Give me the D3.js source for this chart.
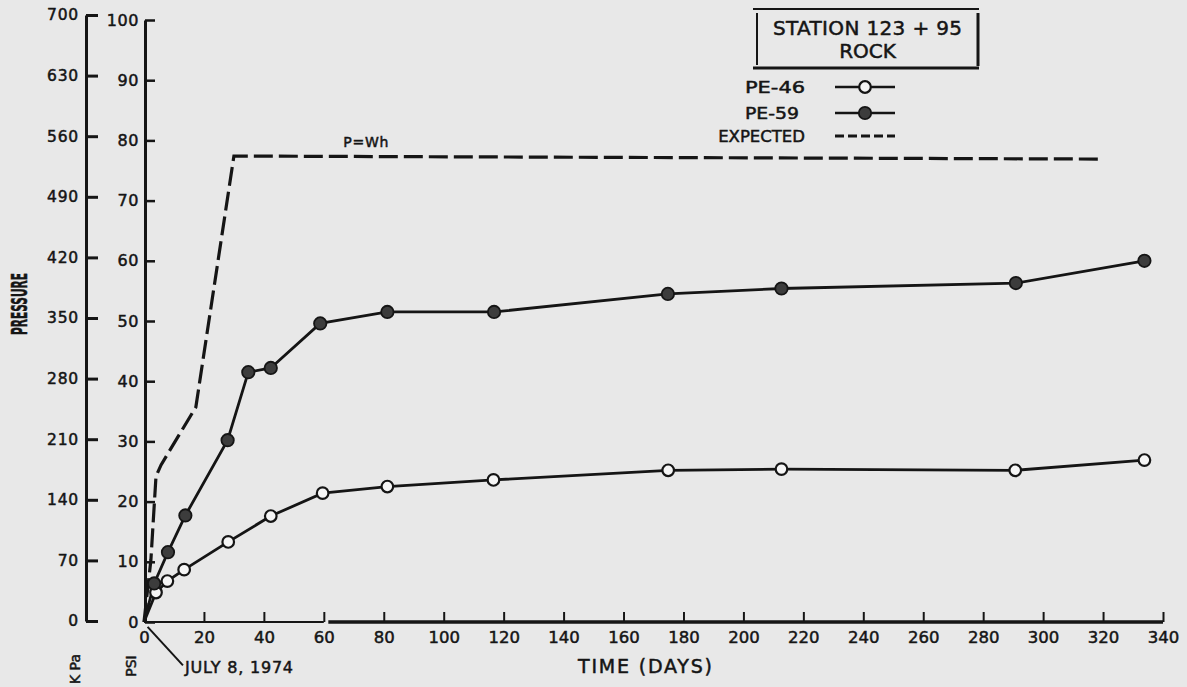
<!DOCTYPE html>
<html>
<head>
<meta charset="utf-8">
<script src="https://cdn.jsdelivr.net/npm/d3@7"></script>
<style>
  html, body { margin: 0; padding: 0; background: #e8e8e8; }
  svg { display: block; }
  svg text { stroke: #151515; stroke-width: 0.5px; }
</style>
</head>
<body>
<svg id="chart" width="1187" height="687"></svg>
<script>
// Pressure cell readings, Station 123+95 (rock), days after July 8, 1974
const pe46Days = [4.0, 7.8, 13.4, 28.1, 42.3, 59.6, 81.2, 116.6, 174.9, 212.7, 290.7, 333.8];
const pe46Psi  = [4.9, 6.8, 8.7, 13.3, 17.6, 21.4, 22.5, 23.6, 25.2, 25.4, 25.2, 26.9];
const pe59Days = [3.4, 8.0, 13.8, 27.9, 34.8, 42.3, 58.8, 81.2, 116.8, 174.8, 212.7, 290.9, 333.8];
const pe59Psi  = [6.4, 11.6, 17.7, 30.2, 41.5, 42.2, 49.6, 51.5, 51.5, 54.5, 55.4, 56.3, 60.0];
// Expected load, P = Wh
const expectedDays = [0, 2.3, 4.0, 5.7, 17.3, 30.0, 319];
const expectedPsi  = [0, 10.3, 24.2, 26.1, 35.7, 77.4, 76.9];

// Axis ticks
const dayTicks = d3.range(0, 341, 20);
const psiTicks = d3.range(0, 101, 10);
const kpaTicks = d3.range(0, 701, 70);

const W = 1187, H = 687;
const ink = "#151515";
const font = "'DejaVu Sans', 'Liberation Sans', sans-serif";

const svg = d3.select("#chart");
svg.append("rect").attr("width", W).attr("height", H).attr("fill", "#e8e8e8");

const x  = d3.scaleLinear().domain([0, 340]).range([144, 1163]);
const y  = d3.scaleLinear().domain([0, 100]).range([622, 20]);
const yk = d3.scaleLinear().domain([0, 700]).range([621, 15]);

// ---- kPa axis (outer) ----
const kpaAxis = svg.append("g")
  .attr("transform", "translate(86,0)")
  .call(d3.axisLeft(yk).tickValues(kpaTicks).tickSizeInner(-12).tickSizeOuter(0).tickPadding(7));
kpaAxis.select(".domain").attr("stroke", ink).attr("stroke-width", 3);
kpaAxis.selectAll(".tick line").attr("stroke", ink).attr("stroke-width", 3);
kpaAxis.selectAll(".tick text")
  .attr("fill", ink).attr("font-family", font).attr("font-size", 15.5)
  .attr("letter-spacing", 0.8);

// ---- psi axis (inner) ----
const psiAxis = svg.append("g")
  .attr("transform", "translate(145,0)")
  .call(d3.axisLeft(y).tickValues(psiTicks).tickSizeInner(-10).tickSizeOuter(0).tickPadding(6));
psiAxis.select(".domain").attr("stroke", ink).attr("stroke-width", 3);
psiAxis.selectAll(".tick line").attr("stroke", ink).attr("stroke-width", 2.5);
psiAxis.selectAll(".tick text")
  .attr("fill", ink).attr("font-family", font).attr("font-size", 16)
  .attr("letter-spacing", 0.6);

// ---- time axis ----
const xAxis = svg.append("g")
  .attr("transform", "translate(0,622)")
  .call(d3.axisBottom(x).tickValues(dayTicks).tickSizeInner(-10).tickSizeOuter(0).tickPadding(9));
xAxis.select(".domain").remove();
xAxis.selectAll(".tick line").attr("stroke", ink).attr("stroke-width", 2);
xAxis.selectAll(".tick").filter(d => d === 0).select("line").remove();
xAxis.selectAll(".tick text")
  .attr("fill", ink).attr("font-family", font).attr("font-size", 16.5);
// base line drawn in two pieces, as on the sheet
svg.append("line").attr("x1", x(0)).attr("x2", x(60)).attr("y1", y(0)).attr("y2", y(0))
  .attr("stroke", ink).attr("stroke-width", 2.2);
svg.append("line").attr("x1", x(61.5)).attr("x2", x(340)).attr("y1", y(0)).attr("y2", y(0))
  .attr("stroke", ink).attr("stroke-width", 3.6);

// ---- axis titles ----
svg.append("text")
  .attr("transform", "translate(27,304) rotate(-90)")
  .attr("text-anchor", "middle").attr("font-family", font).attr("font-weight", "bold")
  .attr("font-size", 21).attr("fill", ink)
  .attr("textLength", 62).attr("lengthAdjust", "spacingAndGlyphs")
  .text("PRESSURE");
svg.append("text")
  .attr("transform", "translate(80,669) rotate(-90)")
  .attr("text-anchor", "middle").attr("font-family", font)
  .attr("font-size", 14).attr("fill", ink)
  .text("K Pa");
svg.append("text")
  .attr("transform", "translate(136,666) rotate(-90)")
  .attr("text-anchor", "middle").attr("font-family", font)
  .attr("font-size", 14).attr("fill", ink)
  .text("PSI");
svg.append("text")
  .attr("x", 578).attr("y", 673)
  .attr("font-family", font).attr("font-size", 19).attr("fill", ink)
  .attr("textLength", 134).attr("lengthAdjust", "spacing")
  .text("TIME (DAYS)");

// start date leader
svg.append("line")
  .attr("x1", x(1.2)).attr("y1", y(-0.8)).attr("x2", x(13)).attr("y2", y(-7.2))
  .attr("stroke", ink).attr("stroke-width", 2);
svg.append("text")
  .attr("x", x(13.7)).attr("y", 673)
  .attr("font-family", font).attr("font-size", 16).attr("fill", ink)
  .attr("textLength", 108).attr("lengthAdjust", "spacing")
  .text("JULY 8, 1974");

// ---- expected curve ----
const line = d3.line().x(d => x(d[0])).y(d => y(d[1]));
const expected = d3.zip(expectedDays, expectedPsi);
svg.append("path").attr("d", line(expected))
  .attr("fill", "none").attr("stroke", ink).attr("stroke-width", 3.2)
  .attr("stroke-dasharray", "19,6");
svg.append("text")
  .attr("x", x(66.5)).attr("y", y(78.9))
  .attr("font-family", font).attr("font-size", 14).attr("fill", ink)
  .attr("textLength", 45).attr("lengthAdjust", "spacing")
  .text("P=Wh");

// ---- measured series ----
const pe46 = d3.zip(pe46Days, pe46Psi);
const pe59 = d3.zip(pe59Days, pe59Psi);
svg.append("path").attr("d", line([[0, 0]].concat(pe46)))
  .attr("fill", "none").attr("stroke", ink).attr("stroke-width", 2.8);
svg.append("path").attr("d", line([[0, 0]].concat(pe59)))
  .attr("fill", "none").attr("stroke", ink).attr("stroke-width", 2.8);

svg.append("g").selectAll("circle").data(pe46).join("circle")
  .attr("cx", d => x(d[0])).attr("cy", d => y(d[1])).attr("r", 5.8)
  .attr("fill", "#f6f6f6").attr("stroke", ink).attr("stroke-width", 2.2);
svg.append("g").selectAll("circle").data(pe59).join("circle")
  .attr("cx", d => x(d[0])).attr("cy", d => y(d[1])).attr("r", 6.2)
  .attr("fill", "#3c3c3c").attr("stroke", ink).attr("stroke-width", 1.8);

// ---- title box and legend ----
const box = svg.append("g");
box.append("line").attr("x1", 753).attr("x2", 979).attr("y1", 9).attr("y2", 9)
  .attr("stroke", ink).attr("stroke-width", 2);
box.append("line").attr("x1", 753).attr("x2", 979).attr("y1", 68).attr("y2", 68)
  .attr("stroke", ink).attr("stroke-width", 3);
box.append("line").attr("x1", 757).attr("x2", 757).attr("y1", 13).attr("y2", 65)
  .attr("stroke", ink).attr("stroke-width", 2);
box.append("line").attr("x1", 978).attr("x2", 978).attr("y1", 13).attr("y2", 66)
  .attr("stroke", ink).attr("stroke-width", 3);
box.append("text").attr("x", 773).attr("y", 35)
  .attr("font-family", font).attr("font-size", 20).attr("fill", ink)
  .attr("textLength", 189).attr("lengthAdjust", "spacing")
  .text("STATION  123 + 95");
box.append("text").attr("x", 867.5).attr("y", 58).attr("text-anchor", "middle")
  .attr("font-family", font).attr("font-size", 20).attr("fill", ink)
  .text("ROCK");

const legendRows = [
  { label: "PE-46", kind: "open", cy: 87, len: 60 },
  { label: "PE-59", kind: "filled", cy: 113, len: 54 },
  { label: "EXPECTED", kind: "dash", cy: 136, len: null }
];
const lg = svg.append("g");
legendRows.forEach(r => {
  const t = lg.append("text")
    .attr("font-family", font).attr("font-size", 16.5).attr("fill", ink)
    .attr("y", r.cy + 6).text(r.label);
  if (r.len) {
    t.attr("x", 745).attr("textLength", r.len).attr("lengthAdjust", "spacingAndGlyphs");
  } else {
    t.attr("x", 805).attr("text-anchor", "end");
  }
  const ln = lg.append("line").attr("x1", 835).attr("x2", 895).attr("y1", r.cy).attr("y2", r.cy)
    .attr("stroke", ink);
  if (r.kind === "dash") {
    ln.attr("stroke-width", 3).attr("stroke-dasharray", "9,4");
  } else {
    ln.attr("stroke-width", 2.6);
    lg.append("circle").attr("cx", 865).attr("cy", r.cy).attr("r", r.kind === "open" ? 5.8 : 6.2)
      .attr("fill", r.kind === "open" ? "#f6f6f6" : "#3c3c3c")
      .attr("stroke", ink).attr("stroke-width", r.kind === "open" ? 2.2 : 1.8);
  }
});
</script>
</body>
</html>
